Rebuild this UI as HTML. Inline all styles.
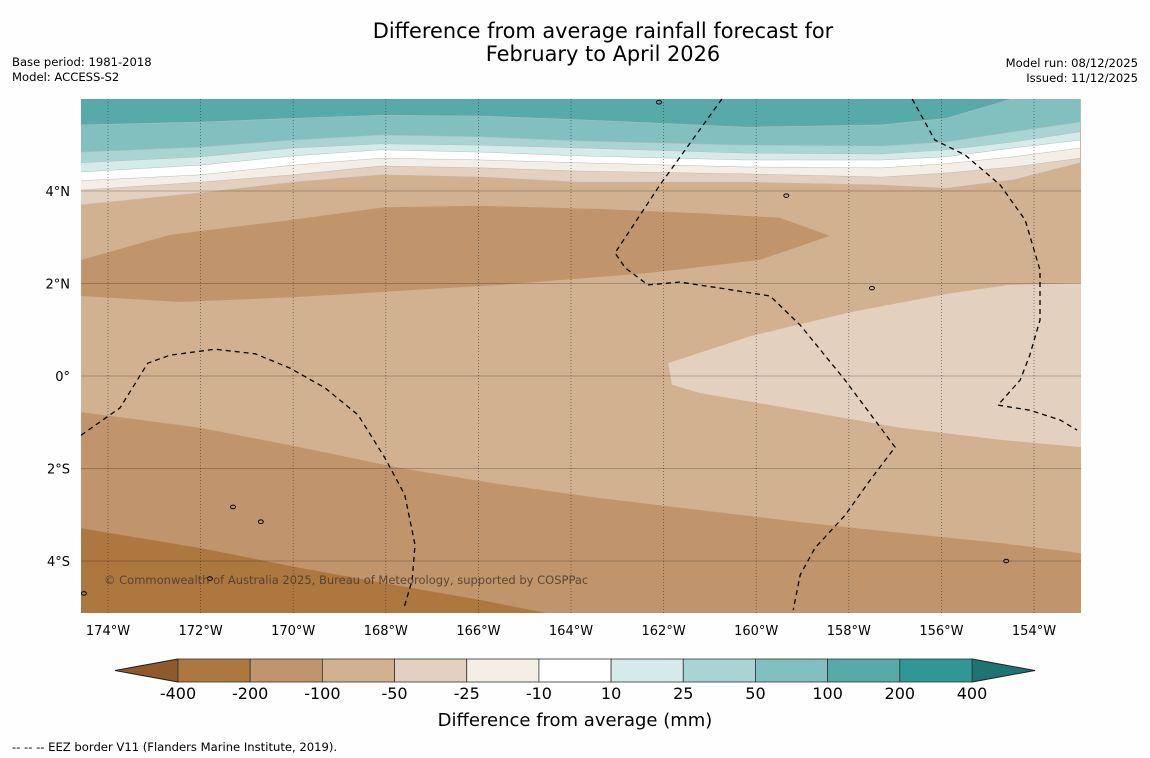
<!DOCTYPE html>
<html><head><meta charset="utf-8"><style>
html,body{margin:0;padding:0;background:#fff;}
svg{display:block;font-family:"DejaVu Sans","Liberation Sans",sans-serif;}
</style></head><body>
<svg id="chart" width="1150" height="758" viewBox="0 0 1150 758" xmlns="http://www.w3.org/2000/svg">
<rect width="1150" height="758" fill="#fefefe"/>
<text x="603" y="38" font-size="20.9" text-anchor="middle" fill="#000">Difference from average rainfall forecast for</text>
<text x="603" y="61" font-size="20.9" text-anchor="middle" fill="#000">February to April 2026</text>
<text x="12" y="66" font-size="11.6">Base period: 1981-2018</text>
<text x="12" y="81" font-size="11.6">Model: ACCESS-S2</text>
<text x="1138" y="67" font-size="11.6" text-anchor="end">Model run: 08/12/2025</text>
<text x="1138" y="82" font-size="11.6" text-anchor="end">Issued: 11/12/2025</text>
<defs><clipPath id="mapclip"><rect x="81" y="99" width="1000" height="514"/></clipPath></defs>
<g id="map" clip-path="url(#mapclip)"></g>
<g id="axes"></g>
<g id="cbar"></g>
<text x="575" y="726" font-size="18" text-anchor="middle">Difference from average (mm)</text>
<text x="12" y="751" font-size="11.6">--  --  -- EEZ border V11 (Flanders Marine Institute, 2019).</text>
</svg>
<script>
// ---- data ----
const bandLons = [-174.6,-172,-170,-168.1,-165.9,-163.8,-160.2,-157.3,-155.9,-154.45,-153];
const b200 = [5.43,5.49,5.57,5.64,5.62,5.54,5.38,5.43,5.57,6.0,6.3];
const b50  = [4.84,4.95,5.10,5.21,5.17,5.08,4.99,4.97,5.06,5.28,5.49];
const b25  = [4.61,4.74,4.93,5.02,4.99,4.93,4.82,4.80,4.89,5.06,5.28];
const b10  = [4.41,4.56,4.76,4.89,4.84,4.76,4.67,4.67,4.74,4.93,5.10];
const bm10 = [4.22,4.35,4.56,4.71,4.67,4.61,4.52,4.50,4.59,4.74,4.93];
const bm25 = [4.02,4.19,4.35,4.54,4.50,4.43,4.37,4.30,4.39,4.52,4.71];
const bm50 = [3.70,3.96,4.19,4.35,4.30,4.19,4.19,4.13,4.06,4.24,4.61];
const upperBrownLon = [-174.58,-172.66,-170.07,-168.02,-165.97,-163.37,-161.21,-159.49,-158.41,-159.92,-162.29,-165.53,-169.85,-172.44,-174.58];
const upperBrownLat = [2.51,3.05,3.37,3.65,3.68,3.61,3.52,3.42,3.03,2.51,2.23,1.97,1.71,1.60,1.73];
const lightLon = [-161.9,-160.13,-157.97,-155.81,-154.52,-152.98,-152.98,-154.73,-156.89,-159.05,-161.21,-161.82];
const lightLat = [0.28,0.86,1.38,1.79,1.97,2.01,-1.54,-1.38,-1.12,-0.74,-0.37,-0.19];
const lowerBrownLon = [-174.58,-172.01,-169.85,-167.69,-165.53,-163.37,-161.21,-159.05,-156.89,-154.73,-152.98];
const lowerBrownLat = [-0.78,-1.12,-1.54,-1.99,-2.34,-2.64,-2.90,-3.16,-3.39,-3.61,-3.83];
const darkLon = [-174.58,-172.01,-169.85,-167.69,-165.97,-164.56];
const darkLat = [-3.29,-3.72,-4.15,-4.54,-4.84,-5.12];
const eez1Lon = [-174.58,-173.74,-173.14,-172.66,-171.69,-170.82,-170.07,-169.31,-168.60,-168.02,-167.59,-167.37,-167.43,-167.61];
const eez1Lat = [-1.28,-0.69,0.28,0.45,0.58,0.48,0.17,-0.26,-0.84,-1.77,-2.57,-3.65,-4.41,-5.02];
const eez2Lon = [-160.74,-162.08,-163.05,-162.83,-162.34,-161.65,-160.78,-159.70,-159.05,-158.08,-157.00,-157.54,-158.08,-158.73,-159.05,-159.20];
const eez2Lat = [5.99,4.13,2.66,2.34,1.97,2.03,1.90,1.73,1.10,-0.09,-1.54,-2.25,-3.01,-3.72,-4.30,-5.06];
const eez3Lon = [-156.63,-156.14,-155.49,-154.73,-154.19,-153.87,-153.87,-154.09,-154.30,-154.78,-154.09,-153.44,-153.07];
const eez3Lat = [5.99,5.10,4.78,4.13,3.37,2.29,1.21,0.45,-0.09,-0.63,-0.74,-0.95,-1.17];
const islandLon = [-162.1,-159.35,-157.5,-171.3,-170.7,-171.8,-154.6,-174.52];
const islandLat = [5.92,3.90,1.90,-2.83,-3.15,-4.38,-4.0,-4.7];
const lonTicks = [-174,-172,-170,-168,-166,-164,-162,-160,-158,-156,-154];
const latTicks = [4,2,0,-2,-4];
const cbLevels = ["-400","-200","-100","-50","-25","-10","10","25","50","100","200","400"];
const cbColors = ["#ad7740","#c0956b","#d2b190","#e3d0be","#f4eee7","#ffffff","#d4ebe9","#a8d5d3","#82c0bf","#58aaa9","#2f9896"];

// ---- scales ----
const X = lon => 108 + (lon + 174) * 46.3;
const Y = lat => 376 - lat * 46.25;
const NS = "http://www.w3.org/2000/svg";
function mk(tag, attrs, parent){const e=document.createElementNS(NS,tag);for(const k in attrs)e.setAttribute(k,attrs[k]);parent.appendChild(e);return e;}
const map = document.getElementById('map');
const pts = (lons,lats)=>lons.map((l,i)=>X(l).toFixed(1)+','+Y(lats[i]).toFixed(1));

let bg = mk('rect',{x:81,y:99,width:1000,height:514,fill:"#d2b190"},map);


const north = [[bm50,"#e3d0be","band-minus25-50"],[bm25,"#f4eee7","band-minus10-25"],[bm10,"#ffffff","band-neutral"],[b10,"#d4ebe9","band-10-25"],[b25,"#a8d5d3","band-25-50"],[b50,"#82c0bf","band-50-100"],[b200,"#58aaa9","band-100-200"]];
north.forEach(([b,c,n])=>{
  const p = pts(bandLons,b);
  p.push(X(-153)+','+Y(7), X(-174.6)+','+Y(7));
  const e = mk('polygon',{points:p.join(' '),fill:c,stroke:"#bbb",'stroke-width':0.5},map);
  
  
});
let ub = mk('polygon',{points:pts(upperBrownLon,upperBrownLat).join(' '),fill:"#c0956b"},map);


let lt = mk('polygon',{points:pts(lightLon,lightLat).join(' '),fill:"#e3d0be"},map);


let lbp = pts(lowerBrownLon,lowerBrownLat); lbp.push(X(-152.9)+','+Y(-6), X(-174.6)+','+Y(-6));
let lb = mk('polygon',{points:lbp.join(' '),fill:"#c0956b"},map);


let dp = pts(darkLon,darkLat); dp.push(X(-164.56)+','+Y(-6), X(-174.6)+','+Y(-6));
let dk = mk('polygon',{points:dp.join(' '),fill:"#ad7740"},map);



lonTicks.forEach(l=>{
  const g = mk('line',{x1:X(l),x2:X(l),y1:99,y2:613,stroke:"#333",'stroke-width':0.8,'stroke-dasharray':'1,2','stroke-opacity':0.7},map);
  
  
});
latTicks.forEach(l=>{
  const g = mk('line',{x1:81,x2:1081,y1:Y(l),y2:Y(l),stroke:"#000",'stroke-width':0.8,'stroke-opacity':0.3},map);
  
  
});
[[eez1Lon,eez1Lat],[eez2Lon,eez2Lat],[eez3Lon,eez3Lat]].forEach(([a,b])=>{
  const e = mk('polyline',{points:pts(a,b).join(' '),fill:"none",stroke:"#000",'stroke-width':1.3,'stroke-dasharray':'5,4'},map);
  
  
});
islandLon.forEach((l,i)=>{
  const e = mk('ellipse',{cx:X(l),cy:Y(islandLat[i]),rx:2.5,ry:1.8,fill:"none",stroke:"#000",'stroke-width':1},map);
  
  
});
let cp = mk('text',{x:104,y:584,'font-size':11.5,fill:"#4a3a2a",'fill-opacity':0.85},map);
cp.textContent = "© Commonwealth of Australia 2025, Bureau of Meteorology, supported by COSPPac";



const axes = document.getElementById('axes');
const fmtLon = l => Math.abs(l)+"°W";
const fmtLat = l => l===0 ? "0°" : Math.abs(l)+"°"+(l>0?"N":"S");
lonTicks.forEach(l=>{
  const t = mk('text',{x:X(l),y:635,'font-size':13,'text-anchor':'middle'},axes);
  t.textContent = fmtLon(l);
  
  
});
latTicks.forEach(l=>{
  const t = mk('text',{x:70,y:Y(l)+5,'font-size':13,'text-anchor':'end'},axes);
  t.textContent = fmtLat(l);
  
  
});

const cb = document.getElementById('cbar');
const cx0 = 178, cx1 = 972, cy0 = 659, cy1 = 682, w = (cx1-cx0)/cbColors.length;
let tl = mk('polygon',{points:`${cx0},${cy0} ${cx0},${cy1} 115,670.5`,fill:"#8f5a2b",stroke:"#222",'stroke-width':1},cb);


let tr = mk('polygon',{points:`${cx1},${cy0} ${cx1},${cy1} 1035,670.5`,fill:"#1e7472",stroke:"#222",'stroke-width':1},cb);


cbColors.forEach((c,i)=>{
  const r = mk('rect',{x:cx0+i*w,y:cy0,width:w,height:cy1-cy0,fill:c,stroke:"#333",'stroke-width':0.8},cb);
  
  
});
cbLevels.forEach((s,i)=>{
  const t = mk('text',{x:cx0+i*w,y:699,'font-size':16,'text-anchor':'middle'},cb);
  t.textContent = s;
  
  
});
</script>
</body></html>
